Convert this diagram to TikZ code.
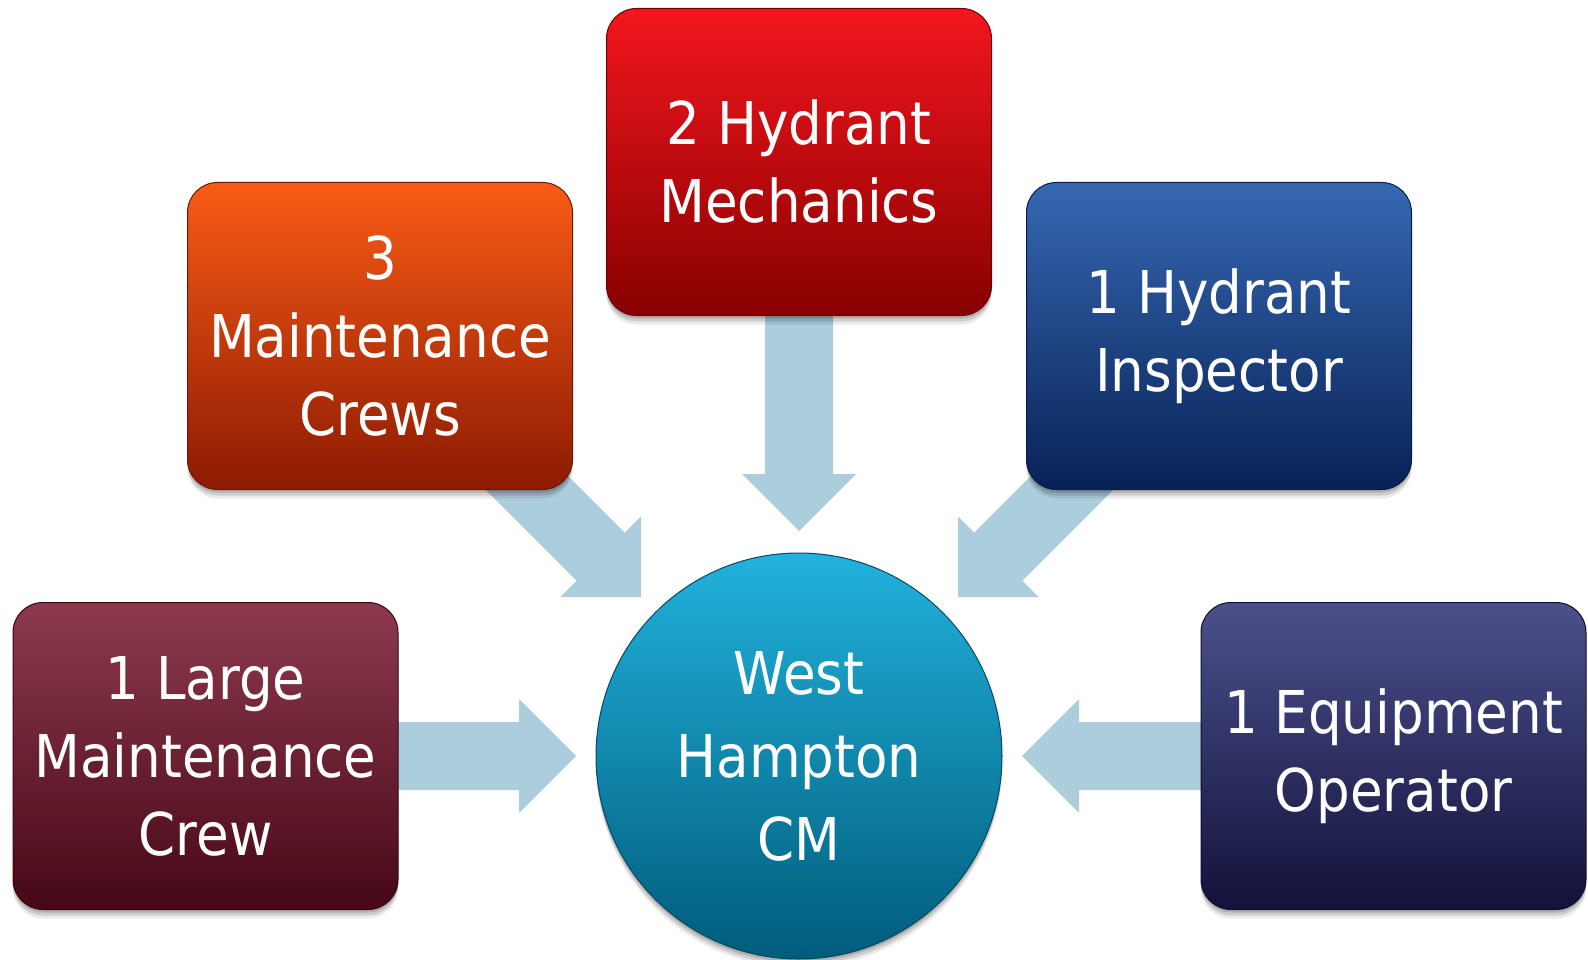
\documentclass[tikz,border=0pt]{standalone}
\usepackage{fontspec}
\setmainfont{DejaVu Sans}[FakeStretch=0.9]
\usetikzlibrary{calc,shadows,backgrounds}
\definecolor{arrowc}{RGB}{172,205,220}
\definecolor{lmtop}{RGB}{142,58,78}
\definecolor{lmbot}{RGB}{70,8,22}
\definecolor{mctop}{RGB}{250,92,22}
\definecolor{mcbot}{RGB}{140,26,2}
\definecolor{hmtop}{RGB}{244,22,30}
\definecolor{hmbot}{RGB}{136,0,0}
\definecolor{hitop}{RGB}{54,104,178}
\definecolor{hibot}{RGB}{8,34,86}
\definecolor{eotop}{RGB}{76,80,140}
\definecolor{eobot}{RGB}{18,18,58}
\definecolor{cmtop}{RGB}{34,178,220}
\definecolor{cmbot}{RGB}{0,92,124}
\tikzset{
  softshadow/.style={
    drop shadow={shadow xshift=0pt, shadow yshift=-9pt, opacity=0.08, fill=black},
    drop shadow={shadow xshift=0pt, shadow yshift=-6pt, opacity=0.12, fill=black},
    drop shadow={shadow xshift=0pt, shadow yshift=-3pt, opacity=0.15, fill=black}},
  boxstyle/.style={rounded corners=30pt, minimum width=385pt, minimum height=307pt,
    inner sep=0pt, align=center, text=white,
    font=\fontsize{59}{78}\selectfont, softshadow},
  hubstyle/.style={circle, minimum size=406pt, inner sep=0pt, align=center, text=white,
    font=\fontsize{59}{83}\selectfont, top color=cmtop, bottom color=cmbot,
    draw=cmbot!80!black, line width=1pt, softshadow},
}
\newcommand\fatarrow[2]{%
  \path ($(#2)!57pt!(#1)$) coordinate (hb);
  \fill[arrowc] ($(#1)!34pt!90:(#2)$) -- ($(hb)!34pt!-90:(#1)$)
    -- ($(hb)!57pt!-90:(#1)$) -- (#2) -- ($(hb)!57pt!90:(#1)$)
    -- ($(hb)!34pt!90:(#1)$) -- ($(#1)!34pt!-90:(#2)$) -- cycle;
}
\begin{document}
\begin{tikzpicture}[x=1pt,y=-1pt]
\useasboundingbox (0,0) rectangle (1588,960);
\node[boxstyle, top color=lmtop, bottom color=lmbot, draw=lmbot!80!black, line width=1pt]
  (lm) at (205.5,756) {1 Large\\Maintenance\\Crew};
\node[boxstyle, top color=mctop, bottom color=mcbot, draw=mcbot!80!black, line width=1pt]
  (mc) at (380,336) {3\\Maintenance\\Crews};
\node[boxstyle, top color=hmtop, bottom color=hmbot, draw=hmbot!80!black, line width=1pt]
  (hm) at (799,162) {2 Hydrant\\Mechanics};
\node[boxstyle, top color=hitop, bottom color=hibot, draw=hibot!80!black, line width=1pt]
  (hi) at (1219,336) {1 Hydrant\\Inspector};
\node[boxstyle, top color=eotop, bottom color=eobot, draw=eobot!80!black, line width=1pt]
  (eo) at (1393.5,756) {1 Equipment\\Operator};
\node[hubstyle] (cm) at (799,756) {West\\Hampton\\CM};
\coordinate (tl) at (576,756);
\coordinate (tr) at (1022,756);
\coordinate (tt) at (799,531);
\coordinate (tul) at (641,597);
\coordinate (tur) at (958,597);
\begin{scope}[on background layer]
\fatarrow{lm.center}{tl}
\fatarrow{eo.center}{tr}
\fatarrow{hm.center}{tt}
\fatarrow{mc.center}{tul}
\fatarrow{hi.center}{tur}
\end{scope}
\end{tikzpicture}
\end{document}
